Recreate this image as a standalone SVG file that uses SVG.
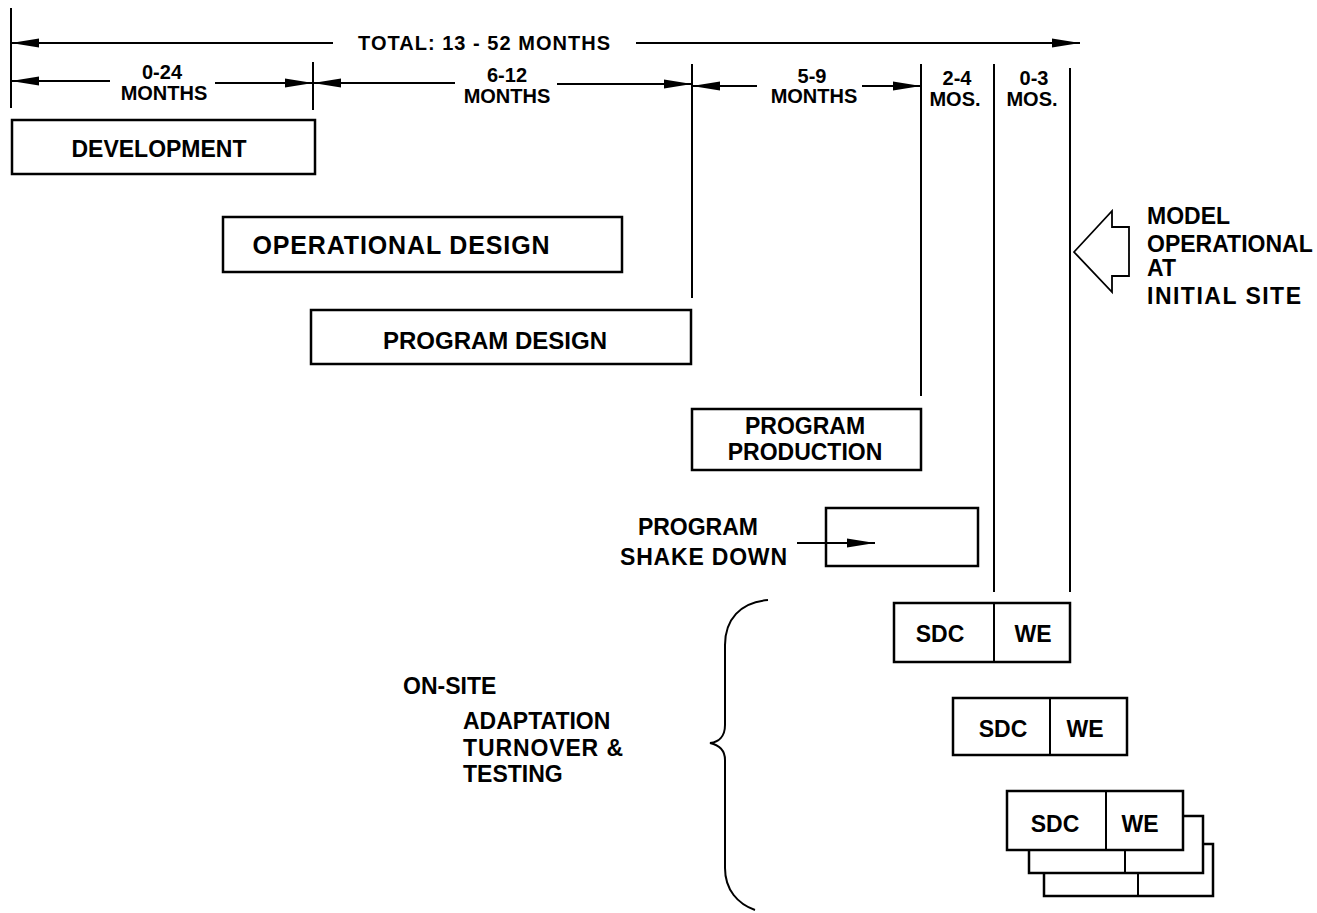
<svg xmlns="http://www.w3.org/2000/svg" width="1317" height="913" viewBox="0 0 1317 913">
<defs>
<marker id="ah" markerUnits="userSpaceOnUse" markerWidth="28" markerHeight="10" refX="28" refY="5" orient="auto" viewBox="0 0 28 10">
<path d="M0,0.5 L28,5 L0,9.5 Z" fill="#000"/>
</marker>
<style>
.t{font-family:"Liberation Sans",Arial,sans-serif;font-weight:bold;fill:#000}
.s{font-size:20px}
.b{font-size:23px}
.m{text-anchor:middle}
.e{text-anchor:end}
.bx{fill:#fff;stroke:#000;stroke-width:2.5}
.ln{stroke:#000;stroke-width:2;fill:none}
</style>
</defs>
<rect width="1317" height="913" fill="#fff"/>
<g id="scale">
<line class="ln" x1="11" y1="8" x2="11" y2="108"/>
<line class="ln" x1="313" y1="62" x2="313" y2="110"/>
<line class="ln" x1="692" y1="64" x2="692" y2="298"/>
<line class="ln" x1="921" y1="64" x2="921" y2="396"/>
<line class="ln" x1="994" y1="64" x2="994" y2="592"/>
<line class="ln" x1="1070" y1="68" x2="1070" y2="592"/>
<text class="t s m" x="484" y="50" textLength="252" lengthAdjust="spacing">TOTAL: 13 - 52 MONTHS</text>
<text class="t s m" x="162" y="79">0-24</text>
<text class="t s m" x="164" y="100">MONTHS</text>
<text class="t s m" x="507" y="82">6-12</text>
<text class="t s m" x="507" y="103">MONTHS</text>
<text class="t s m" x="812" y="83">5-9</text>
<text class="t s m" x="814" y="103">MONTHS</text>
<text class="t s m" x="957" y="85">2-4</text>
<text class="t s m" x="955" y="106">MOS.</text>
<text class="t s m" x="1034" y="85">0-3</text>
<text class="t s m" x="1032" y="106">MOS.</text>
</g>
<g id="connectors">
<line class="ln" x1="333" y1="43" x2="11" y2="43" marker-end="url(#ah)"/>
<line class="ln" x1="636" y1="43" x2="1080" y2="43" marker-end="url(#ah)"/>
<line class="ln" x1="110" y1="81" x2="11" y2="81" marker-end="url(#ah)"/>
<line class="ln" x1="215" y1="83" x2="313" y2="83" marker-end="url(#ah)"/>
<line class="ln" x1="455" y1="83" x2="313" y2="83" marker-end="url(#ah)"/>
<line class="ln" x1="557" y1="84" x2="692" y2="84" marker-end="url(#ah)"/>
<line class="ln" x1="757" y1="86" x2="692" y2="86" marker-end="url(#ah)"/>
<line class="ln" x1="862" y1="86" x2="921" y2="86" marker-end="url(#ah)"/>
<line class="ln" x1="797" y1="543" x2="875" y2="543" marker-end="url(#ah)"/>
</g>
<g id="development">
<rect class="bx" x="12" y="120" width="303" height="54"/>
<text class="t b m" x="159" y="157">DEVELOPMENT</text>
</g>
<g id="operational-design">
<rect class="bx" x="223" y="217" width="399" height="55"/>
<text class="t m" style="font-size:25px" x="401" y="254" textLength="297" lengthAdjust="spacing">OPERATIONAL DESIGN</text>
</g>
<g id="program-design">
<rect class="bx" x="311" y="310" width="380" height="54"/>
<text class="t m" style="font-size:24px" x="495" y="349" textLength="224" lengthAdjust="spacing">PROGRAM DESIGN</text>
</g>
<g id="program-production">
<rect class="bx" x="692" y="409" width="229" height="61"/>
<text class="t b m" x="805" y="434">PROGRAM</text>
<text class="t b m" x="805" y="460">PRODUCTION</text>
</g>
<g id="program-shake-down">
<text class="t b e" x="758" y="535">PROGRAM</text>
<text class="t b e" x="787" y="565" textLength="167" lengthAdjust="spacing">SHAKE DOWN</text>
<rect class="bx" x="826" y="508" width="152" height="58" style="fill:none"/>
</g>
<g id="model-operational">
<path d="M1074,252 L1112,211 L1112,227 L1129,227 L1129,276 L1112,276 L1112,292 Z" fill="#fff" stroke="#000" stroke-width="1.8"/>
<text class="t b" x="1147" y="224">MODEL</text>
<text class="t b" x="1147" y="252">OPERATIONAL</text>
<text class="t b" x="1147" y="276">AT</text>
<text class="t b" x="1147" y="304" textLength="154" lengthAdjust="spacing">INITIAL SITE</text>
</g>
<g id="on-site">
<text class="t b" x="403" y="694">ON-SITE</text>
<text class="t b" x="463" y="729">ADAPTATION</text>
<text class="t b" x="463" y="756" textLength="160" lengthAdjust="spacing">TURNOVER &amp;</text>
<text class="t b" x="463" y="782">TESTING</text>
<path class="ln" stroke-width="2.2" d="M768,600 C740,602 725,620 725,645 L725,725 C725,736 719,742 710,743 C719,745 725,750 725,760 L725,868 C725,890 738,904 755,910"/>
</g>
<g id="site-1">
<rect class="bx" x="894" y="603" width="176" height="59"/>
<line class="ln" x1="994" y1="603" x2="994" y2="662"/>
<text class="t b m" x="940" y="642">SDC</text>
<text class="t b m" x="1033" y="642">WE</text>
</g>
<g id="site-2">
<rect class="bx" x="953" y="698" width="174" height="57"/>
<line class="ln" x1="1050" y1="698" x2="1050" y2="755"/>
<text class="t b m" x="1003" y="737">SDC</text>
<text class="t b m" x="1085" y="737">WE</text>
</g>
<g id="site-n">
<rect class="bx" x="1044" y="844" width="169" height="52"/>
<line class="ln" x1="1138" y1="844" x2="1138" y2="896"/>
<rect class="bx" x="1029" y="816" width="174" height="57"/>
<line class="ln" x1="1125" y1="816" x2="1125" y2="873"/>
<rect class="bx" x="1007" y="791" width="176" height="59"/>
<line class="ln" x1="1106" y1="791" x2="1106" y2="850"/>
<text class="t b m" x="1055" y="832">SDC</text>
<text class="t b m" x="1140" y="832">WE</text>
</g>
</svg>
